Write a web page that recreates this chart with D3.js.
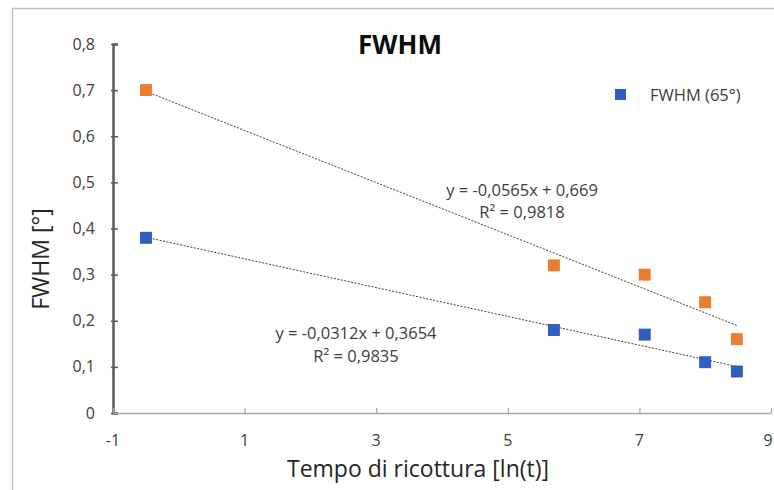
<!DOCTYPE html>
<html lang="it">
<head>
    <meta charset="UTF-8">
    <title>FWHM</title>
    <script src="https://d3js.org/d3.v7.min.js"></script>
    <style>
        body {
            margin: 0;
            padding: 0;
            background-color: #fff;
            font-family: "Open Sans", "Noto Sans", sans-serif;
        }

        #chart {
            display: block;
        }

        .tick-label {
            font-size: 16px;
            fill: #404040;
        }

        .axis-title {
            font-size: 23px;
            fill: #262626;
        }

        .eq-label {
            font-size: 16.5px;
            fill: #404040;
        }
    </style>
</head>
<body>
<svg id="chart"></svg>

<script>
    // Data
    const xValues = [-0.5, 5.7, 7.08, 8.0, 8.48];
    const seriesOrange = [0.70, 0.32, 0.30, 0.24, 0.16];
    const seriesBlue = [0.38, 0.18, 0.17, 0.11, 0.09];

    // Linear trend line coefficients [slope, intercept] and labels
    const trendOrange = [-0.0565, 0.669];
    const trendBlue = [-0.0312, 0.3654];
    const eqLabels = ['y = -0,0565x + 0,669', 'R² = 0,9818', 'y = -0,0312x + 0,3654', 'R² = 0,9835'];

    const xTicks = [-1, 1, 3, 5, 7, 9];
    const yTicks = [0, 0.1, 0.2, 0.3, 0.4, 0.5, 0.6, 0.7, 0.8];
    const legendLabel = 'FWHM (65°)';

    const W = 774, H = 490;
    const svg = d3.select('#chart').attr('width', W).attr('height', H);

    // Outer chart frame (only top and left edges are visible in the crop)
    svg.append('path')
        .attr('d', `M12.5,${H} L12.5,8.5 L${W},8.5`)
        .attr('fill', 'none')
        .attr('stroke', '#bfbfbf')
        .attr('stroke-width', 1.5);

    // Scales
    const x = d3.scaleLinear().domain([-1, 9]).range([113, 771]);
    const y = d3.scaleLinear().domain([0, 0.8]).range([413, 44]);
    const fmt = d => d3.format('.1f')(d).replace('.', ',');

    // Y axis
    const yAxis = svg.append('g')
        .attr('transform', `translate(${x(-1)},0)`)
        .call(d3.axisLeft(y).tickValues(yTicks).tickSize(-5).tickFormat(''));
    yAxis.select('.domain').attr('stroke', '#595959').attr('stroke-width', 2.5);
    yAxis.selectAll('.tick line').attr('stroke', '#595959').attr('stroke-width', 1.5)
        .attr('x1', -2);

    svg.selectAll('.ylab')
        .data(yTicks)
        .enter()
        .append('text')
        .attr('class', 'tick-label')
        .attr('x', 95)
        .attr('y', d => y(d))
        .attr('dy', '0.35em')
        .attr('text-anchor', 'end')
        .text(d => d === 0 ? '0' : fmt(d));

    // X axis
    const xAxis = svg.append('g')
        .attr('transform', `translate(0,${y(0)})`)
        .call(d3.axisBottom(x).tickValues(xTicks).tickSize(-5).tickSizeOuter(0).tickFormat(''));
    xAxis.select('.domain').attr('stroke', '#a6a6a6').attr('stroke-width', 1.5);
    xAxis.selectAll('.tick line').attr('stroke', '#a6a6a6').attr('stroke-width', 1.2);

    // the last label sits on the right edge; keep it inside the frame
    svg.selectAll('.xlab')
        .data(xTicks)
        .enter()
        .append('text')
        .attr('class', 'tick-label')
        .attr('x', d => Math.min(x(d), W - 6))
        .attr('y', 446)
        .attr('text-anchor', 'middle')
        .text(d => String(d));

    // Axis titles
    svg.append('text')
        .attr('class', 'axis-title')
        .attr('x', 418)
        .attr('y', 477)
        .attr('text-anchor', 'middle')
        .text('Tempo di ricottura [ln(t)]');

    svg.append('text')
        .attr('class', 'axis-title')
        .attr('transform', 'translate(49,259) rotate(-90)')
        .attr('text-anchor', 'middle')
        .text('FWHM [°]');

    // Chart title
    svg.append('text')
        .attr('x', 400)
        .attr('y', 54)
        .attr('text-anchor', 'middle')
        .attr('font-size', '26px')
        .attr('font-weight', 'bold')
        .attr('fill', '#0d0d0d')
        .text('FWHM');

    // Trend lines
    const xMin = d3.min(xValues), xMax = d3.max(xValues);
    const trendLine = d3.line().x(d => x(d[0])).y(d => y(d[1]));
    [trendOrange, trendBlue].forEach(t => {
        svg.append('path')
            .datum([[xMin, t[0] * xMin + t[1]], [xMax, t[0] * xMax + t[1]]])
            .attr('d', trendLine)
            .attr('fill', 'none')
            .attr('stroke', '#404040')
            .attr('stroke-width', 1)
            .attr('stroke-dasharray', '2,1.5');
    });

    // Markers
    const size = 11;
    function drawMarkers(values, color, stroke) {
        svg.append('g')
            .selectAll('rect')
            .data(values)
            .enter()
            .append('rect')
            .attr('x', (d, i) => x(xValues[i]) - size / 2)
            .attr('y', d => y(d) - size / 2)
            .attr('width', size)
            .attr('height', size)
            .attr('fill', color)
            .attr('stroke', stroke)
            .attr('stroke-width', 0.8);
    }
    drawMarkers(seriesOrange, '#ED7D31', '#e07528');
    drawMarkers(seriesBlue, '#2F5FC4', '#24509f');

    // Equation labels
    const eqPos = [[522, 196], [522, 218], [356, 339], [356, 362]];
    svg.selectAll('.eq')
        .data(eqLabels)
        .enter()
        .append('text')
        .attr('class', 'eq-label')
        .attr('x', (d, i) => eqPos[i][0])
        .attr('y', (d, i) => eqPos[i][1])
        .attr('text-anchor', 'middle')
        .text(d => d);

    // Legend
    svg.append('rect')
        .attr('x', 615)
        .attr('y', 89)
        .attr('width', 11)
        .attr('height', 11)
        .attr('fill', '#2F5FC4');
    svg.append('text')
        .attr('x', 650)
        .attr('y', 95)
        .attr('dy', '0.35em')
        .attr('font-size', '16.5px')
        .attr('fill', '#404040')
        .text(legendLabel);
</script>
</body>
</html>
